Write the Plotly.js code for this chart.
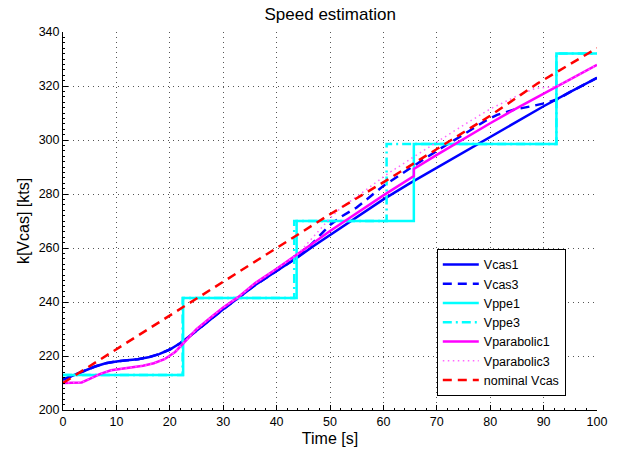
<!DOCTYPE html>
<html>
<head>
<meta charset="utf-8">
<script src="https://cdn.plot.ly/plotly-3.0.1.min.js"></script>
<style>html,body{margin:0;padding:0;background:#fff;}#chart{width:623px;height:453px;}</style>
</head>
<body>
<div id="chart"></div>
<script>
// ---- data ----
const tVcas1 = [0,2,4,6,8,10,12,14,16,18,20,22,24,26,28,30,32.8,36,40,43.75,47,50,55,60,65,70,75,80,85,90,95,100];
const Vcas1  = [211.3,213,214.6,216.1,217.3,218,218.4,218.8,219.5,220.7,222.4,224.8,227.8,231,234.2,237.3,241.5,246.3,251.5,256.3,260.8,264.8,271.5,278,284,289.7,295.5,301.3,307,312.5,317.8,323];

const tVcas3 = [0,2,4,6,8,10,12,14,16,18,20,22,24,26,28,30,32.8,36,40,43.75,45,47,50,52,55,60,65,70,75,77,79,81.3,84.4,87.7,90.6,92.5,95,100];
const Vcas3  = [211.3,213,214.6,216.1,217.3,218,218.4,218.8,219.5,220.7,222.4,224.8,227.8,231,234.2,237.3,241.5,246.3,251.5,256.3,258.3,262.5,268.5,271.5,275,283,289.5,296,302,304.5,307,309.3,311.2,312.5,313.8,315,317.8,323];

const tVppe1 = [0,22.5,22.5,43.75,43.75,65.7,65.7,92.4,92.4,100];
const Vppe1  = [213,213,241.5,241.5,270,270,298.5,298.5,332,332];

const tVppe3 = [0,22.4,22.4,43.3,43.3,60.6,60.6,92.4,92.4,100];
const Vppe3  = [213,213,241.5,241.5,270,270,298.5,298.5,332,332];

const tVpar1 = [0,2,3.5,5,7,9,11,13,15,17,19,21,22.5,25,28,30,32.8,36,40,43.75,47,50,55,60,65.7,65.7,70,75,80,85,90,95,100];
const Vpar1  = [210,210,210.2,211.5,213.4,214.7,215.3,215.8,216.4,217.3,218.8,221.5,224.8,229.9,234.8,238,241.8,247,252.3,257.4,262,266.3,273,279.5,286.6,289.3,294.5,300.4,306.2,311.8,317.2,322.5,327.8];

const tVpar3 = [0,2,3.5,5,7,9,11,13,15,17,19,21,22.5,25,28,30,32.8,36,40,43.75,45,47,50,52.1,55,60.8,65,70.2,75,77.7,80,85.2,88.3,89.5,92.4,95,100];
const Vpar3  = [210,210,210.2,211.5,213.4,214.7,215.3,215.8,216.4,217.3,218.8,221.5,224.8,229.9,234.8,238,241.8,247,252.3,257.4,260,264.5,271,275,279,287.5,293,299.5,305.5,308.9,311.5,316.5,319,319.3,319.8,322.5,327.8];

const tNom = [0,10,22.5,30,42.7,50,60.8,70,80,88.9,100];
const Vnom = [210,222.5,238,247.5,263.5,272.5,285.3,296.8,309,321,334];

const xTicks = [0,10,20,30,40,50,60,70,80,90,100];
const yTicks = [200,220,240,260,280,300,320,340];

const FONT = '"Liberation Sans", Arial, Helvetica, sans-serif';

const traces = [
  {x:tVcas1, y:Vcas1, name:'Vcas1', mode:'lines', line:{color:'#0000ff', width:2.5}},
  {x:tVcas3, y:Vcas3, name:'Vcas3', mode:'lines', line:{color:'#0000ff', width:2.5, dash:'9px,6px'}},
  {x:tVppe1, y:Vppe1, name:'Vppe1', mode:'lines', line:{color:'#00ffff', width:2.5}},
  {x:tVppe3, y:Vppe3, name:'Vppe3', mode:'lines', line:{color:'#00ffff', width:2.5, dash:'9px,4px,2px,4px'}},
  {x:tVpar1, y:Vpar1, name:'Vparabolic1', mode:'lines', line:{color:'#ff00ff', width:2.5}},
  {x:tVpar3, y:Vpar3, name:'Vparabolic3', mode:'lines', line:{color:'#ff66ff', width:1.5, dash:'1.5px,3.5px'}},
  {x:tNom, y:Vnom, name:'nominal Vcas', mode:'lines', line:{color:'#ff0000', width:2.5, dash:'9px,6px'}}
];

const axisCommon = {
  showline:true, linecolor:'#000', linewidth:1, mirror:false, zeroline:false,
  ticks:'inside', ticklen:5, tickcolor:'#000', tickwidth:1,
  showgrid:true, gridcolor:'#555', gridwidth:1, griddash:'1px,4px',
  tickfont:{family:FONT, size:12.5, color:'#000'},
};

const layout = {
  width:623, height:453,
  margin:{l:63, r:26, t:32, b:43, pad:0},
  paper_bgcolor:'#fff', plot_bgcolor:'#fff',
  font:{family:FONT, color:'#000'},
  title:{text:'Speed estimation', font:{family:FONT, size:17, color:'#000'}, x:0.53, xanchor:'center', y:0.968, yanchor:'middle'},
  xaxis:Object.assign({}, axisCommon, {
    range:[0,100], tickvals:xTicks, ticktext:xTicks.map(String),
    minor:{ticks:'inside', ticklen:2, dtick:2, tickcolor:'#000', showgrid:false},
    title:{text:'Time [s]', font:{family:FONT, size:16, color:'#000'}, standoff:4}
  }),
  yaxis:Object.assign({}, axisCommon, {
    range:[200,340], tickvals:yTicks, ticktext:yTicks.map(String),
    minor:{ticks:'inside', ticklen:2, dtick:2, tickcolor:'#000', showgrid:false},
    title:{text:'k[Vcas] [kts]', font:{family:FONT, size:16, color:'#000'}, standoff:5}
  }),
  showlegend:true,
  legend:{
    x:0.70, y:0.426, xanchor:'left', yanchor:'top',
    bgcolor:'#fff', bordercolor:'#000', borderwidth:1,
    font:{family:FONT, size:12.5, color:'#000'},
    tracegroupgap:0, itemwidth:36
  }
};

Plotly.newPlot('chart', traces, layout, {staticPlot:true, displayModeBar:false});
</script>
</body>
</html>
